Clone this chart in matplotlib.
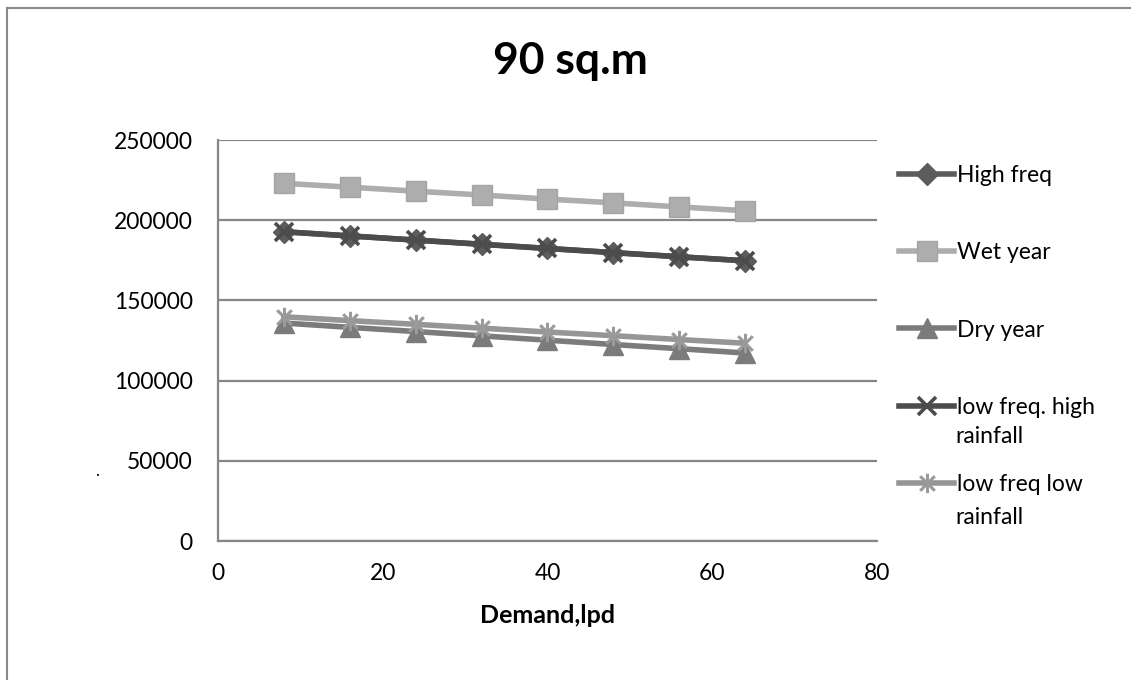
import matplotlib.pyplot as plt
from matplotlib.path import Path
from matplotlib.lines import Line2D

plt.rcParams['font.family'] = ['Lato', 'DejaVu Sans']

# demand (litres per day) and yield for each scenario
demand = [8, 16, 24, 32, 40, 48, 56, 64]
high_freq = [192800, 190200, 187600, 185000, 182400, 179800, 177200, 174700]
wet_year = [223000, 220600, 218100, 215700, 213200, 210800, 208300, 205900]
dry_year = [135900, 133200, 130600, 127900, 125200, 122500, 119900, 117200]
low_freq_high = [192800, 190200, 187600, 185000, 182400, 179800, 177200, 174700]
low_freq_low = [139800, 137400, 135100, 132700, 130300, 128000, 125600, 123300]

labels = ['High freq', 'Wet year', 'Dry year',
          'low freq. high\nrainfall', 'low freq low\nrainfall']
xticks = [0, 20, 40, 60, 80]
yticks = [0, 50000, 100000, 150000, 200000, 250000]

# asterisk marker: vertical bar plus an x
star = Path([(0, -1), (0, 1), (-0.75, -0.75), (0.75, 0.75), (-0.75, 0.75), (0.75, -0.75)],
            [Path.MOVETO, Path.LINETO, Path.MOVETO, Path.LINETO, Path.MOVETO, Path.LINETO])

fig = plt.figure(figsize=(11.31, 6.80), dpi=100)
ax = fig.add_axes([0.1927, 0.2044, 0.5827, 0.5897])

first_lines = [lab.split('\n')[0] for lab in labels]

ax.plot(demand, high_freq, color='#5c5c5c', lw=4, marker='D', ms=11,
        mec='#5c5c5c', mfc='#5c5c5c', label=first_lines[0])
ax.plot(demand, wet_year, color='#adadad', lw=4, marker='s', ms=14,
        mec='#a4a4a4', mfc='#adadad', label=first_lines[1])
ax.plot(demand, dry_year, color='#7b7b7b', lw=4, marker='^', ms=15,
        mec='#7b7b7b', mfc='#7b7b7b', label=first_lines[2])
ax.plot(demand, low_freq_high, color='#4c4c4c', lw=4, marker='x', ms=13,
        mew=2.6, mec='#4c4c4c', label=first_lines[3])
ax.plot(demand, low_freq_low, color='#969696', lw=4, marker=star, ms=14,
        mew=2.2, mec='#9a9a9a', label=first_lines[4])

ax.set_xlim(0, 80)
ax.set_ylim(0, 250000)
ax.set_xticks(xticks)
ax.set_yticks(yticks)
ax.tick_params(length=0, labelsize=16.5)
ax.xaxis.set_tick_params(pad=16)
ax.yaxis.set_tick_params(pad=18)
ax.grid(axis='y', color='#868686', lw=1.6)
ax.set_axisbelow(True)
for side in ['top', 'right']:
    ax.spines[side].set_visible(False)
for side in ['left', 'bottom']:
    ax.spines[side].set_color('#868686')
    ax.spines[side].set_linewidth(1.6)

ax.set_xlabel('Demand,lpd', fontsize=18, fontweight='bold', labelpad=14)
fig.text(0.504, 0.911, '90 sq.m', fontsize=32, fontweight='bold',
         ha='center', va='center')

leg = ax.legend(loc='upper left', bbox_to_anchor=(1.02, 0.96), frameon=False,
                fontsize=16.5, handlelength=2.4, handletextpad=0.12,
                labelspacing=2.45, borderaxespad=0)

# wrapped second lines of the two long legend entries
for lab, y in zip(labels[3:], [0.3574, 0.2397]):
    fig.text(0.8444, y, lab.split('\n')[1], fontsize=16.5, ha='left', va='center')

# outer chart border (left and top edges)
fig.add_artist(Line2D([0.0065, 0.0065], [0, 0.988], color='#8a8a8a', lw=1.5))
fig.add_artist(Line2D([0.0065, 1], [0.988, 0.988], color='#8a8a8a', lw=1.5))
fig.text(0.086, 0.307, '.', fontsize=12, ha='center', va='center')

fig.savefig('out.png', dpi=100)
